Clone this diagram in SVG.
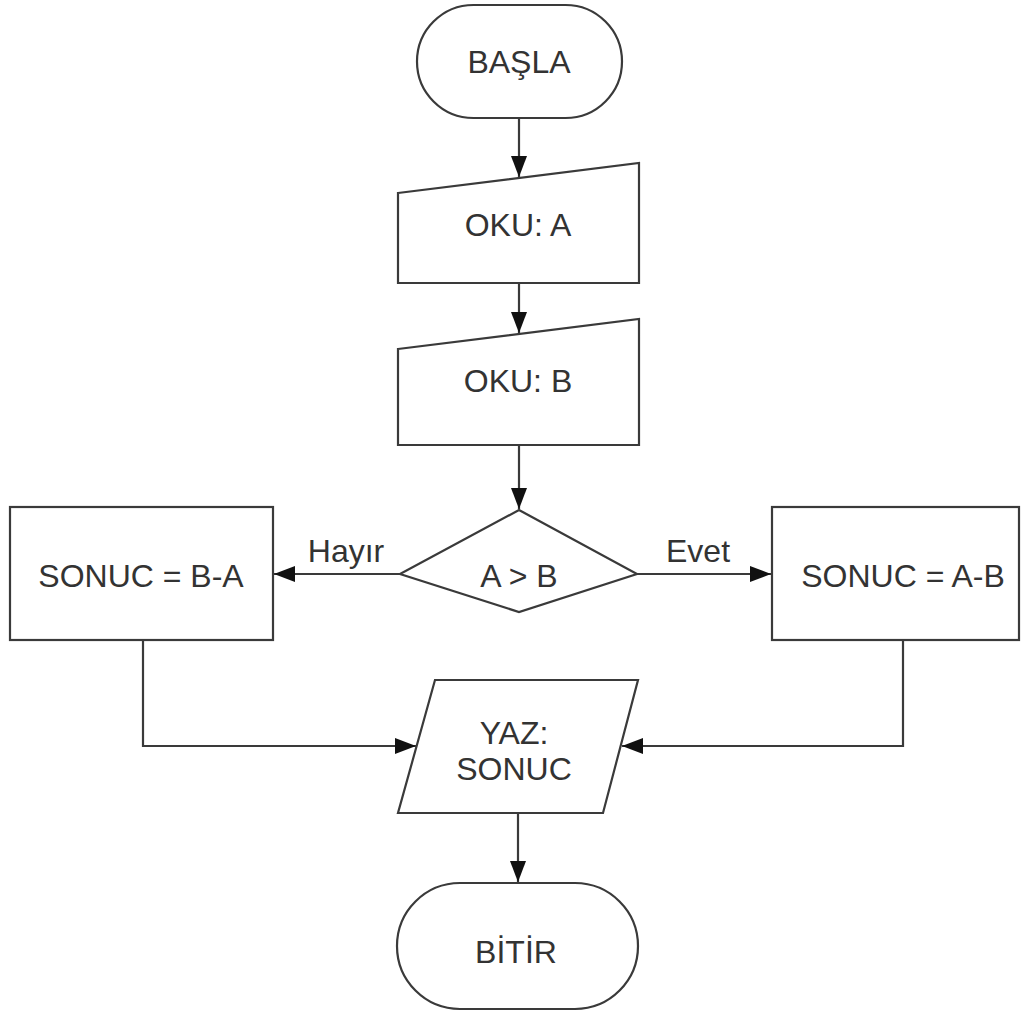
<svg xmlns="http://www.w3.org/2000/svg" width="1021" height="1017" viewBox="0 0 1021 1017">
  <style>
    .shape { fill: #ffffff; stroke: #3a3a3a; stroke-width: 2.2; }
    .edge { fill: none; stroke: #3a3a3a; stroke-width: 2.2; marker-end: url(#arrow); }
    text { font-family: "Liberation Sans", Arial, sans-serif; font-size: 32px; fill: #333333; text-anchor: middle; }
  </style>
  <defs>
    <marker id="arrow" markerUnits="userSpaceOnUse" markerWidth="23" markerHeight="17" refX="21" refY="8" orient="auto">
      <path d="M0,0 L21,8 L0,16 z" fill="#111111"/>
    </marker>
  </defs>
  <rect width="1021" height="1017" fill="#ffffff"/>

  <g id="connectors">
    <line class="edge" x1="519" y1="118" x2="519" y2="177"/>
    <line class="edge" x1="519" y1="283" x2="519" y2="333"/>
    <line class="edge" x1="519" y1="445" x2="519" y2="509"/>
    <line class="edge" x1="400" y1="574" x2="274" y2="574"/>
    <line class="edge" x1="637" y1="574" x2="771" y2="574"/>
    <polyline class="edge" points="143,640 143,746 416,746"/>
    <polyline class="edge" points="903,640 903,746 622,746"/>
    <line class="edge" x1="518" y1="813" x2="518" y2="882"/>
    <text x="346" y="562">Hayır</text>
    <text x="698" y="562">Evet</text>
  </g>

  <g id="start">
    <rect class="shape" x="417" y="5" width="205" height="113" rx="56.5" ry="56.5"/>
    <text x="519" y="73">BAŞLA</text>
  </g>

  <g id="read-a">
    <polygon class="shape" points="398,193 639,163 639,283 398,283"/>
    <text x="518" y="236">OKU: A</text>
  </g>

  <g id="read-b">
    <polygon class="shape" points="398,349 639,319 639,445 398,445"/>
    <text x="518" y="392">OKU: B</text>
  </g>

  <g id="decision">
    <polygon class="shape" points="519,510 637,574 519,612 400,574"/>
    <text x="519" y="587">A &gt; B</text>
  </g>

  <g id="no-branch">
    <rect class="shape" x="10" y="507" width="263" height="133"/>
    <text x="141" y="587">SONUC = B-A</text>
  </g>

  <g id="yes-branch">
    <rect class="shape" x="772" y="507" width="247" height="133"/>
    <text x="903" y="587">SONUC = A-B</text>
  </g>

  <g id="write">
    <polygon class="shape" points="435,680 638,680 603,813 398,813"/>
    <text x="514" y="744">YAZ:</text>
    <text x="514" y="780">SONUC</text>
  </g>

  <g id="end">
    <rect class="shape" x="397" y="883" width="241" height="126" rx="63" ry="63"/>
    <text x="516" y="963">BİTİR</text>
  </g>
</svg>
